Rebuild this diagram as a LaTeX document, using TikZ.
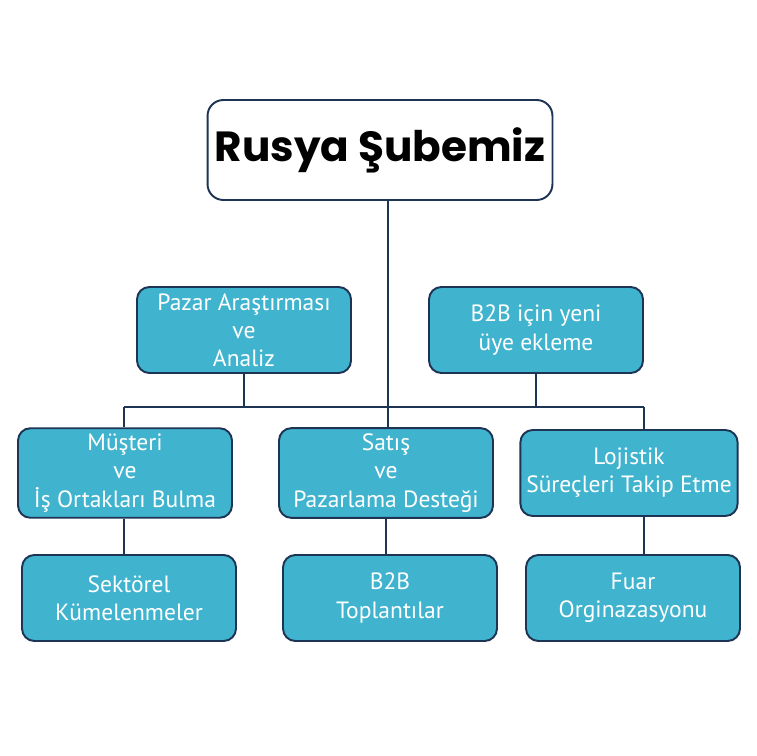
\documentclass[tikz,border=0pt]{standalone}
\usepackage{fontspec}
\setmainfont{PT Sans}
\newfontfamily\titlefont{Poppins}[UprightFont=* Bold, BoldFont=* Black]
\usepackage{xcolor}
\usetikzlibrary{positioning}

\definecolor{boxteal}{RGB}{64,180,206}
\definecolor{boxnavy}{RGB}{30,52,84}

\begin{document}
\begin{tikzpicture}[
    x=0.02cm, y=-0.02cm,
    every node/.style={font=\fontsize{13.4}{16}\selectfont},
    titlebox/.style={rectangle, rounded corners=9pt, draw=boxnavy, line width=1.1pt, fill=white, align=center, minimum width=6.9cm, minimum height=2cm, font=\titlefont\fontsize{24}{28}\selectfont},
    unitbox/.style={rectangle, rounded corners=7pt, draw=boxnavy, line width=1.1pt, fill=boxteal, text=white, align=center, minimum width=4.28cm, minimum height=1.72cm},
    link/.style={draw=boxnavy, line width=0.6pt}
  ]

  \useasboundingbox (0,0) rectangle (756,756);

  \node[titlebox] (sube) at (380,150) {Rusya Şubemiz};

  \node[unitbox] (pazar) at (244,330) {Pazar Araştırması\\ve\\Analiz};
  \node[unitbox] (uye) at (536,330) {B2B için yeni\\üye ekleme};

  \node[unitbox] (musteri) at (125,473) {Müşteri\\ve\\İş Ortakları Bulma};
  \node[unitbox] (satis) at (386,473) {Satış\\ve\\Pazarlama Desteği};
  \node[unitbox] (lojistik) at (629,473) {Lojistik\\Süreçleri Takip Etme};

  \node[unitbox] (sektorel) at (129,598) {Sektörel\\Kümelenmeler};
  \node[unitbox] (toplanti) at (390,598) {B2B\\Toplantılar};
  \node[unitbox] (fuar) at (633,598) {Fuar\\Orginazasyonu};

  \coordinate (busL) at (124,407);
  \coordinate (busR) at (644,407);

  \draw[link] (sube.south -| 388,0) -- (388,0 |- satis.north);
  \draw[link] (busL) -- (busR);
  \draw[link] (pazar.south) -- (pazar.south |- busL);
  \draw[link] (uye.south) -- (uye.south |- busR);
  \draw[link] (busL) -- (busL |- musteri.north);
  \draw[link] (busR) -- (busR |- lojistik.north);
  \draw[link] (musteri.south -| busL) -- (busL |- sektorel.north);
  \draw[link] (satis.south) -- (satis.south |- toplanti.north);
  \draw[link] (lojistik.south -| busR) -- (busR |- fuar.north);

\end{tikzpicture}
\end{document}
